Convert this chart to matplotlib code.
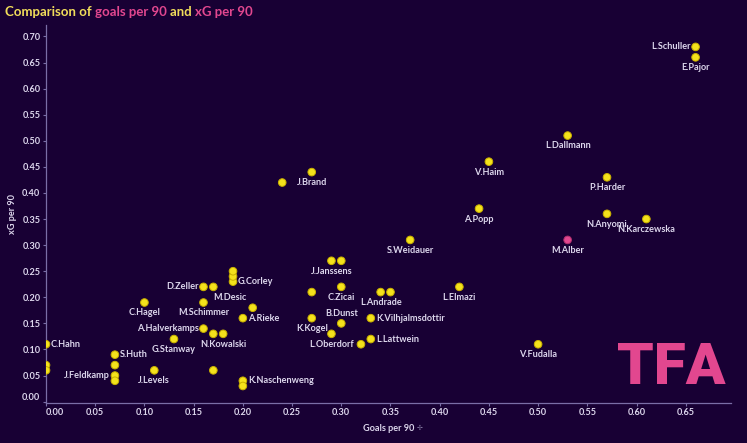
import matplotlib.pyplot as plt

plt.rcParams['font.family'] = ['Lato', 'DejaVu Sans']

# data
names = ['L.Schuller', 'E.Pajor', 'L.Dallmann', 'V.Haim', 'P.Harder', 'A.Popp', 'N.Anyomi',
         'N.Karczewska', 'M.Alber', 'S.Weidauer', 'J.Brand', '', 'J.Janssens', '', 'C.Zicai', '',
         'L.Andrade', '', 'L.Elmazi', 'K.Kogel', 'B.Dunst', 'L.Oberdorf', '', 'K.Vilhjalmsdottir',
         'L.Lattwein', 'V.Fudalla', 'G.Corley', '', '', 'D.Zeller', 'M.Desic', 'M.Schimmer',
         'A.Halverkamps', '', 'N.Kowalski', '', 'A.Rieke', '', 'K.Naschenweng', '', 'C.Hagel',
         'G.Stanway', 'J.Levels', 'S.Huth', '', 'J.Feldkamp', '', 'C.Hahn', '', '']
goals = [0.66, 0.66, 0.53, 0.45, 0.57, 0.44, 0.57,
         0.61, 0.53, 0.37, 0.27, 0.24, 0.29, 0.30, 0.30, 0.27,
         0.34, 0.35, 0.42, 0.27, 0.30, 0.29, 0.32, 0.33,
         0.33, 0.50, 0.19, 0.19, 0.19, 0.16, 0.17, 0.16,
         0.16, 0.17, 0.18, 0.17, 0.20, 0.21, 0.20, 0.20, 0.10,
         0.13, 0.11, 0.07, 0.07, 0.07, 0.07, 0.00, 0.00, 0.00]
xg = [0.68, 0.66, 0.51, 0.46, 0.43, 0.37, 0.36,
      0.35, 0.31, 0.31, 0.44, 0.42, 0.27, 0.27, 0.22, 0.21,
      0.21, 0.21, 0.22, 0.16, 0.15, 0.13, 0.11, 0.16,
      0.12, 0.11, 0.23, 0.24, 0.25, 0.22, 0.22, 0.19,
      0.14, 0.13, 0.13, 0.06, 0.16, 0.18, 0.04, 0.03, 0.19,
      0.12, 0.06, 0.09, 0.07, 0.05, 0.04, 0.11, 0.07, 0.06]
highlight = 'M.Alber'

# label placement (offset in points, horizontal alignment)
place = {'b': (0, -7.5, 'center'), 'a': (0, 7.2, 'center'),
         'r': (3.6, 0, 'left'), 'l': (-3.6, 0, 'right'), 'br': (12, -7.6, 'center')}
label_side = {'L.Schuller': 'l', 'D.Zeller': 'l', 'A.Halverkamps': 'l', 'J.Feldkamp': 'l',
              'C.Hahn': 'r', 'S.Huth': 'r', 'G.Corley': 'r', 'A.Rieke': 'r', 'K.Naschenweng': 'r',
              'K.Vilhjalmsdottir': 'r', 'L.Lattwein': 'r', 'B.Dunst': 'a', 'M.Desic': 'br'}

bg = '#180034'
yellow = '#f4e21c'
pink = '#e2478f'
txt = '#dcd6ec'
axcol = '#7a6ea6'

fig = plt.figure(figsize=(7.47, 4.43), dpi=100)
fig.patch.set_facecolor(bg)
ax = fig.add_axes([0.0616, 0.091, 0.917, 0.8526])
ax.set_facecolor(bg)

cols = [pink if n == highlight else yellow for n in names]
edges = ['#b0306e' if n == highlight else '#c9b000' for n in names]
ax.scatter(goals, xg, s=30, c=cols, edgecolors=edges, linewidths=0.7, zorder=3)

for n, gx, gy in zip(names, goals, xg):
    if not n:
        continue
    dx, dy, ha = place[label_side.get(n, 'b')]
    ax.annotate(n, (gx, gy), xytext=(dx, dy), textcoords='offset points',
                ha=ha, va='center', fontsize=6.6, fontweight='bold', color=txt, zorder=4)

ax.set_xlim(0, 0.696)
ax.set_ylim(-0.002, 0.722)
xt = [i * 0.05 for i in range(14)]
yt = [i * 0.05 for i in range(15)]
ax.set_xticks(xt)
ax.set_yticks(yt)
ax.set_xticklabels([f'{v:.2f}' for v in xt])
ax.set_yticklabels([f'{v:.2f}' for v in yt])
ax.get_xticklabels()[0].set_ha('left')
ax.get_yticklabels()[0].set_va('bottom')
ax.tick_params(colors=axcol, labelcolor=txt, labelsize=6.6, length=2.5, width=0.8, pad=1.5)
for lab in ax.get_xticklabels() + ax.get_yticklabels():
    lab.set_fontweight('bold')
for s in ['top', 'right']:
    ax.spines[s].set_visible(False)
for s in ['left', 'bottom']:
    ax.spines[s].set_color(axcol)
    ax.spines[s].set_linewidth(0.9)

ax.set_xlabel('Goals per 90', fontsize=6.6, fontweight='bold', color=txt, labelpad=5)
ax.set_ylabel('xG per 90', fontsize=6.6, fontweight='bold', color=txt, labelpad=4)
fig.text(420 / 747, 1 - 428 / 443, '\u2722', fontsize=5, color='#8a80a8',
         ha='center', va='center', family='DejaVu Sans')

# multi-coloured title
renderer = fig.canvas.get_renderer()
parts = [('Comparison of ', '#f0dc5a'), ('goals per 90 ', pink), ('and ', '#f0dc5a'), ('xG per 90', pink)]
x = 5 / 747
for s, c in parts:
    t = fig.text(x, 1 - 11.5 / 443, s, color=c, fontsize=9.5, fontweight='bold', va='center')
    x += t.get_window_extent(renderer).width / fig.bbox.width

# logo
fig.text(671 / 747, 1 - 368 / 443, 'TFA', fontsize=42, fontweight='heavy', color=pink,
         ha='center', va='center', family='Roboto')

fig.savefig('out.png', dpi=100, facecolor=bg)
